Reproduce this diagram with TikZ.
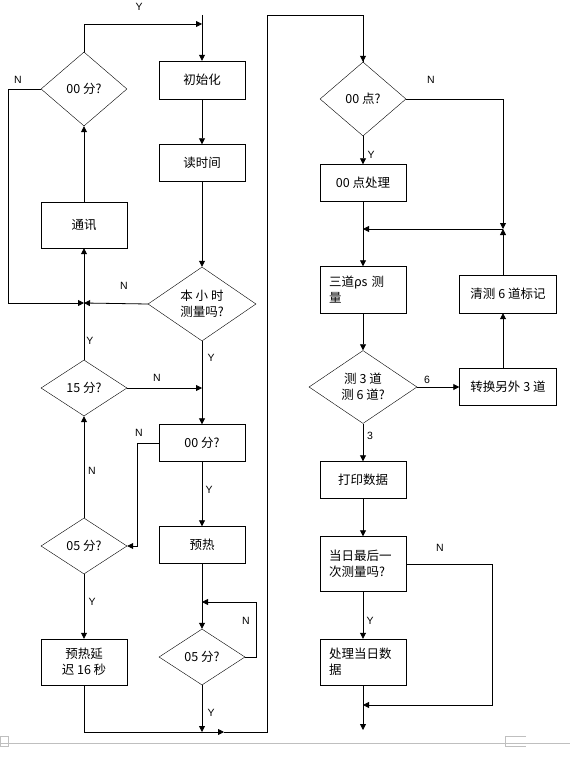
\documentclass[tikz,border=0pt]{standalone}
\usepackage{fontspec}
\setmainfont{Liberation Sans}
\newfontfamily\cjk{Noto Sans CJK SC}
\usetikzlibrary{arrows.meta}
\usetikzlibrary{shapes.geometric}
\tikzset{tips=proper}
\tikzset{%
    proc/.style={rectangle, draw, minimum width=86pt, minimum height=37pt, inner sep=2pt, font=\cjk\fontsize{12.5}{16}\selectfont, align=center},
    test/.style={diamond, draw, minimum width=86pt, minimum height=56pt, inner sep=0pt, font=\cjk\fontsize{12.5}{16}\selectfont, align=center},
    flow/.style={draw, line width=0.8pt, -{Triangle[length=6pt,width=6pt]}},
    wire/.style={draw, line width=0.8pt},
    lbl/.style={font=\fontsize{10.5}{12}\selectfont, inner sep=0pt}
}

\begin{document}
\begin{tikzpicture}[x=1pt, y=-1pt]
    \useasboundingbox (0,0) rectangle (570,759);
    % left half
    \node[test, minimum height=74pt] (t00) at (84,89) {00 分?};
    \node[proc, minimum height=38pt] (init) at (202,80) {初始化};
    \node[proc] (readt) at (202,163) {读时间};
    \node[test, minimum width=108pt, minimum height=74pt] (hour) at (202,304) {本 小 时\\测量吗?};
    \node[proc, minimum height=46pt] (comm) at (84,225) {通讯};
    \node[test] (t15) at (84,388) {15 分?};
    \node[proc] (m00) at (202,443) {00 分?};
    \node[test] (t05a) at (84,546) {05 分?};
    \node[proc] (heat) at (202,545) {预热};
    \node[proc, minimum height=46pt] (delay) at (84,662) {预热延\\迟 16 秒};
    \node[test] (t05b) at (202,657) {05 分?};
    % right half
    \node[test, minimum height=74pt] (h00) at (363,99) {00 点?};
    \node[proc] (h00proc) at (363,183) {00 点处理};
    \node[proc, minimum height=47pt, text width=68pt, align=left] (meas3) at (363,290) {三道ρs 测\\量};
    \node[test, minimum width=108pt, minimum height=73pt] (ch) at (363,387) {测 3 道\\测 6 道?};
    \node[proc, minimum width=97pt] (swap) at (508,387) {转换另外 3 道};
    \node[proc, minimum width=97pt, minimum height=38pt] (clear) at (508,294) {清测 6 道标记};
    \node[proc] (print) at (363,480) {打印数据};
    \node[proc, minimum height=55pt, text width=68pt, align=left] (last) at (363,564) {当日最后一\\次测量吗?};
    \node[proc, minimum height=46pt, text width=68pt, align=left] (dayproc) at (363,662) {处理当日数\\据};

    \coordinate (start) at (202,15);
    \coordinate (join) at (84,303);
    \coordinate (rjoin) at (503,229);
    \coordinate (back) at (224,732);
    \coordinate (fin) at (363,730);

    % connectors, left half
    \path[flow] (t00.north) |- (202,24);
    \path[flow] (start) -- (init);
    \path[flow] (init) -- (readt);
    \path[flow] (readt) -- (hour);
    \path[flow] (hour.west) -- (join);
    \path[flow] (t00.west) -- (8,89) |- (join);
    \path[flow] (t15.north) -- (comm.south);
    \path[flow] (comm.north) -- (t00.south);
    \path[flow] (hour.south) -- (m00.north);
    \path[flow] (t15.east) -- (202,388);
    \path[flow] (m00.west) -- (137,443) |- (t05a.east);
    \path[flow] (m00.south) -- (heat.north);
    \path[flow] (heat.south) -- (t05b.north);
    \path[flow] (t05b.east) -- (256,657) |- (202,602);
    \path[flow] (t05b.south) -- (202,732);
    \path[flow] (t05a.north) -- (t15.south);
    \path[flow] (t05a.south) -- (delay.north);
    \path[flow] (delay.south) |- (back);
    \path[wire] (back) -- (267,732) -- (267,15) -| (h00.north);
    \path[flow] (363,24) -- (h00.north);

    % connectors, right half
    \path[flow] (h00.south) -- (h00proc.north);
    \path[flow] (h00.east) -| (rjoin);
    \path[flow] (h00proc.south) -- (meas3.north);
    \path[flow] (rjoin) -- (363,229);
    \path[flow] ([xshift=-5pt]clear.north) -- (rjoin);
    \path[flow] (meas3) -- (ch);
    \path[flow] (ch.east) -- (swap.west);
    \path[flow] ([xshift=-5pt]swap.north) -- ([xshift=-5pt]clear.south);
    \path[flow] (ch.south) -- (print.north);
    \path[flow] (print) -- (last);
    \path[flow] (last.east) -| (492,705) -- (363,705);
    \path[flow] (last.south) -- (dayproc.north);
    \path[flow] (dayproc.south) -- (fin);

    % branch labels
    \node[lbl] (ytop) at (139,7) {Y};
    \node[lbl] (n00) at (18,80) {N};
    \node[lbl] (nhour) at (124,286) {N};
    \node[lbl] (y15) at (90,341) {Y};
    \node[lbl] (yhour) at (211,358) {Y};
    \node[lbl] (n15) at (157,378) {N};
    \node[lbl] (nm00) at (139,433) {N};
    \node[lbl] (n05a) at (92,471) {N};
    \node[lbl] (ym00) at (209,490) {Y};
    \node[lbl] (y05a) at (92,602) {Y};
    \node[lbl] (n05b) at (246,621) {N};
    \node[lbl] (y05b) at (211,713) {Y};
    \node[lbl] (nh00) at (431,80) {N};
    \node[lbl] (yh00) at (371,155) {Y};
    \node[lbl] (six) at (427,380) {6};
    \node[lbl] (three) at (370,436) {3};
    \node[lbl] (nlast) at (440,548) {N};
    \node[lbl] (ylast) at (370,621) {Y};

    % page edge marks
    \draw[gray!50, line width=0.8pt] (0,743) -- (570,743);
    \draw[gray!50, line width=0.8pt] (0,736) rectangle (8,746);
    \draw[gray!50, line width=0.8pt] (526,736) -- (505,736) -- (505,746) -- (526,746);
\end{tikzpicture}
\end{document}
